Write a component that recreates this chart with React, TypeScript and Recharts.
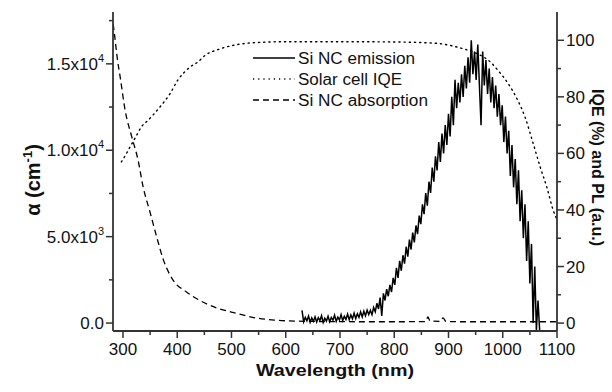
import React from 'react';
import { ComposedChart, Legend, Line, XAxis, YAxis } from 'recharts';

const AXIS = '#333';
const FONT = '"Liberation Sans", Arial, sans-serif';

// Si NC absorption (cm^-1), left axis
const absNm = [282, 284, 290, 295, 304, 316, 328, 337, 350, 362, 374, 392, 417, 442, 473, 510, 546, 580, 620, 660, 700, 750, 800, 850, 858, 862, 866, 885, 890, 895, 900, 950, 1000, 1050, 1100];
const absAlpha = [17300, 16800, 15200, 14200, 12300, 10800, 9400, 7900, 6400, 5000, 3700, 2500, 1800, 1300, 870, 560, 290, 170, 110, 90, 80, 75, 75, 80, 80, 350, 120, 100, 300, 100, 80, 75, 75, 75, 75];

// Solar cell IQE (%), right axis
const iqeNm = [297, 305, 313, 324, 334, 345, 355, 368, 387, 401, 412, 424, 438, 451, 475, 503, 546, 600, 700, 800, 850, 884, 927, 950, 980, 991, 1010, 1026, 1041, 1056, 1069, 1081, 1093, 1099];
const iqeVal = [57, 59.5, 62.3, 66, 69.4, 71.5, 73.5, 76.4, 81.2, 85.9, 88.5, 90.6, 92.3, 94.6, 96.7, 98.2, 99.2, 99.5, 99.5, 99.4, 99.2, 98.8, 97, 95.5, 91.8, 89.4, 84.7, 79.4, 72.9, 63.6, 55.2, 48.2, 39.9, 37];

// Si NC emission (a.u.), right axis, sampled every 3 nm from 630 nm
const plStart = 630;
const plStep = 3;
const plVal = [
  4.5, 0.5, 2.0, 0.8, 2.5, 0.3, 1.8, 0.6, 2.2, 0.4,
  1.9, 0.9, 2.6, 0.2, 1.7, 0.7, 2.4, 0.5, 2.0, 1.0,
  2.8, 0.6, 2.1, 1.1, 3.0, 0.9, 2.4, 1.3, 3.2, 1.2,
  2.9, 1.5, 3.5, 1.6, 3.3, 2.0, 4.0, 2.2, 4.2, 2.6,
  4.6, 3.0, 4.5, 3.0, 5.5, 4.0, 7.0, 5.0, 9.0, 2.5,
  10.5, 8.0, 12.0, 9.5, 13.5, 11.0, 16.0, 13.5, 19.5, 16.0,
  22.0, 18.5, 24.0, 21.0, 27.0, 23.5, 29.5, 26.0, 32.0, 28.5,
  34.5, 31.5, 38.0, 35.0, 42.0, 38.5, 46.0, 41.5, 50.0, 46.0,
  55.0, 50.0, 59.0, 54.0, 64.0, 57.0, 67.0, 60.0, 70.0, 63.0,
  74.0, 66.0, 80.0, 70.0, 86.0, 76.0, 85.0, 78.0, 88.0, 80.0,
  91.0, 83.0, 94.0, 85.0, 100.0, 88.0, 96.0, 86.0, 98.5, 84.0,
  70.0, 96.0, 84.0, 93.0, 81.0, 90.0, 78.0, 87.0, 76.0, 84.0,
  73.0, 81.0, 70.0, 77.0, 64.0, 73.0, 60.0, 68.0, 52.0, 63.0,
  48.0, 58.0, 42.0, 54.0, 36.0, 47.0, 30.0, 42.0, 22.0, 36.0,
  14.0, 28.0, 0.0, 20.0, -2.5, 8.0, -2.5,
];

// ticks
const xTicks = [300, 350, 400, 450, 500, 550, 600, 650, 700, 750, 800, 850, 900, 950, 1000, 1050, 1100];
const leftTicks = [0, 2500, 5000, 7500, 10000, 12500, 15000, 17500];
const leftMajor = [0, 5000, 10000, 15000];
const leftMantissa = ['0.0', '5.0x10', '1.0x10', '1.5x10'];
const leftExp = ['', '3', '4', '4'];
const rightTicks = [0, 10, 20, 30, 40, 50, 60, 70, 80, 90, 100];

const absData = absNm.map((nm, i) => ({ nm, alpha: absAlpha[i] }));
const iqeData = iqeNm.map((nm, i) => ({ nm, iqe: iqeVal[i] }));
const plData = plVal.map((v, i) => ({ nm: plStart + i * plStep, pl: v }));

const SERIES = [
  { name: 'Si NC emission', dash: undefined as string | undefined, width: 1.5, textLen: 117 },
  { name: 'Solar cell IQE', dash: '1.2 4', width: 1.4, textLen: 104 },
  { name: 'Si NC absorption', dash: '6 4', width: 1.3, textLen: 130 },
];

const BottomTick = (props: any) => {
  const { x, y, payload } = props;
  const major = payload.value % 100 === 0;
  return (
    <g>
      <line x1={x} x2={x} y1={y} y2={y + (major ? 7 : 4)} stroke={AXIS} strokeWidth={1.5} />
      {major && (
        <text x={x} y={y + 24} textAnchor="middle" fontSize={17} fontFamily={FONT} fill="#111">
          {payload.value}
        </text>
      )}
    </g>
  );
};

const TopTick = (props: any) => {
  const { x, y } = props;
  return <line x1={x} x2={x} y1={y} y2={y + 4} stroke={AXIS} strokeWidth={1.5} />;
};

const LeftTick = (props: any) => {
  const { x, y, payload } = props;
  const idx = leftMajor.indexOf(payload.value);
  const major = idx >= 0;
  return (
    <g>
      <line x1={x} x2={x - (major ? 7 : 4)} y1={y} y2={y} stroke={AXIS} strokeWidth={1.5} />
      {major && (
        <text x={x - 9} y={y + 6} textAnchor="end" fontSize={17} fontFamily={FONT} fill="#111">
          <tspan>{leftMantissa[idx]}</tspan>
          {leftExp[idx] && (
            <tspan dy={-8} fontSize={11}>
              {leftExp[idx]}
            </tspan>
          )}
        </text>
      )}
    </g>
  );
};

const RightTick = (props: any) => {
  const { x, y, payload } = props;
  const major = payload.value % 20 === 0;
  return (
    <g>
      <line x1={x} x2={x + (major ? 7 : 4)} y1={y} y2={y} stroke={AXIS} strokeWidth={1.5} />
      {major && (
        <text x={x + 9} y={y + 6} textAnchor="start" fontSize={17} fontFamily={FONT} fill="#111">
          {payload.value}
        </text>
      )}
    </g>
  );
};

const renderLegend = () => (
  <svg width={190} height={66}>
    {SERIES.map((s, i) => (
      <g key={s.name}>
        <line x1={3} x2={45} y1={11 + i * 21} y2={11 + i * 21} stroke="#000" strokeWidth={s.width} strokeDasharray={s.dash} />
        <text x={48} y={17 + i * 21} fontSize={16} fontFamily={FONT} fill="#111" textLength={s.textLen} lengthAdjust="spacingAndGlyphs">
          {s.name}
        </text>
      </g>
    ))}
  </svg>
);

const XLabel = (props: any) => {
  const { x, y, width } = props.viewBox;
  return (
    <text x={x + width / 2} y={y + 45} textAnchor="middle" fontSize={17} fontWeight="bold" fontFamily={FONT} fill="#111" textLength={158} lengthAdjust="spacingAndGlyphs">
      Wavelength (nm)
    </text>
  );
};

const LeftLabel = () => (
  <text transform="translate(40,180) rotate(-90)" textAnchor="middle" fontSize={20} fontWeight="bold" fontFamily={FONT} fill="#111">
    <tspan>α (cm</tspan>
    <tspan dy={-8} fontSize={13}>-1</tspan>
    <tspan dy={8}>)</tspan>
  </text>
);

const RightLabel = (props: any) => {
  const { x, y, height } = props.viewBox;
  return (
    <text transform={`translate(${x + 35},${y + height / 2 - 4}) rotate(90)`} textAnchor="middle" fontSize={16} fontWeight="bold" fontFamily={FONT} fill="#111">
      IQE (%) and PL (a.u.)
    </text>
  );
};

function App() {
  return (
    <div style={{ position: 'absolute', left: 0, top: 0, background: '#fff' }}>
      <ComposedChart width={612} height={392} margin={{ top: 12, right: 5, bottom: 0, left: 0 }}>
        <XAxis
          xAxisId="bottom"
          dataKey="nm"
          type="number"
          domain={[281.6, 1100]}
          allowDataOverflow
          ticks={xTicks}
          interval={0}
          height={61}
          tickSize={0}
          tickMargin={0}
          tickLine={false}
          tick={<BottomTick />}
          axisLine={{ stroke: AXIS, strokeWidth: 1.8 }}
          label={<XLabel />}
        />
        <XAxis
          xAxisId="top"
          orientation="top"
          dataKey="nm"
          type="number"
          domain={[281.6, 1100]}
          allowDataOverflow
          ticks={xTicks}
          interval={0}
          height={0}
          tickSize={0}
          tickMargin={0}
          tickLine={false}
          tick={<TopTick />}
          axisLine={{ stroke: AXIS, strokeWidth: 1.8 }}
        />
        <YAxis
          yAxisId="left"
          type="number"
          domain={[-460, 18000]}
          allowDataOverflow
          ticks={leftTicks}
          interval={0}
          width={113}
          tickSize={0}
          tickMargin={0}
          tickLine={false}
          tick={<LeftTick />}
          axisLine={{ stroke: AXIS, strokeWidth: 1.8 }}
          label={<LeftLabel />}
        />
        <YAxis
          yAxisId="right"
          orientation="right"
          type="number"
          domain={[-2.8, 110]}
          allowDataOverflow
          ticks={rightTicks}
          interval={0}
          width={50}
          tickSize={0}
          tickMargin={0}
          tickLine={false}
          tick={<RightTick />}
          axisLine={{ stroke: AXIS, strokeWidth: 1.8 }}
          label={<RightLabel />}
        />
        <Legend
          layout="vertical"
          align="center"
          verticalAlign="middle"
          content={renderLegend}
          wrapperStyle={{ position: 'absolute', left: 250, top: 47, width: 190, height: 66 }}
        />
        <Line
          xAxisId="bottom"
          yAxisId="left"
          data={absData}
          dataKey="alpha"
          name={SERIES[2].name}
          type="monotone"
          stroke="#000"
          strokeWidth={SERIES[2].width}
          strokeDasharray={SERIES[2].dash}
          dot={false}
          isAnimationActive={false}
        />
        <Line
          xAxisId="bottom"
          yAxisId="right"
          data={iqeData}
          dataKey="iqe"
          name={SERIES[1].name}
          type="monotone"
          stroke="#000"
          strokeWidth={SERIES[1].width}
          strokeDasharray={SERIES[1].dash}
          strokeLinecap="round"
          dot={false}
          isAnimationActive={false}
        />
        <Line
          xAxisId="bottom"
          yAxisId="right"
          data={plData}
          dataKey="pl"
          name={SERIES[0].name}
          type="linear"
          stroke="#000"
          strokeWidth={SERIES[0].width}
          dot={false}
          isAnimationActive={false}
        />
      </ComposedChart>
    </div>
  );
}

export default App;
